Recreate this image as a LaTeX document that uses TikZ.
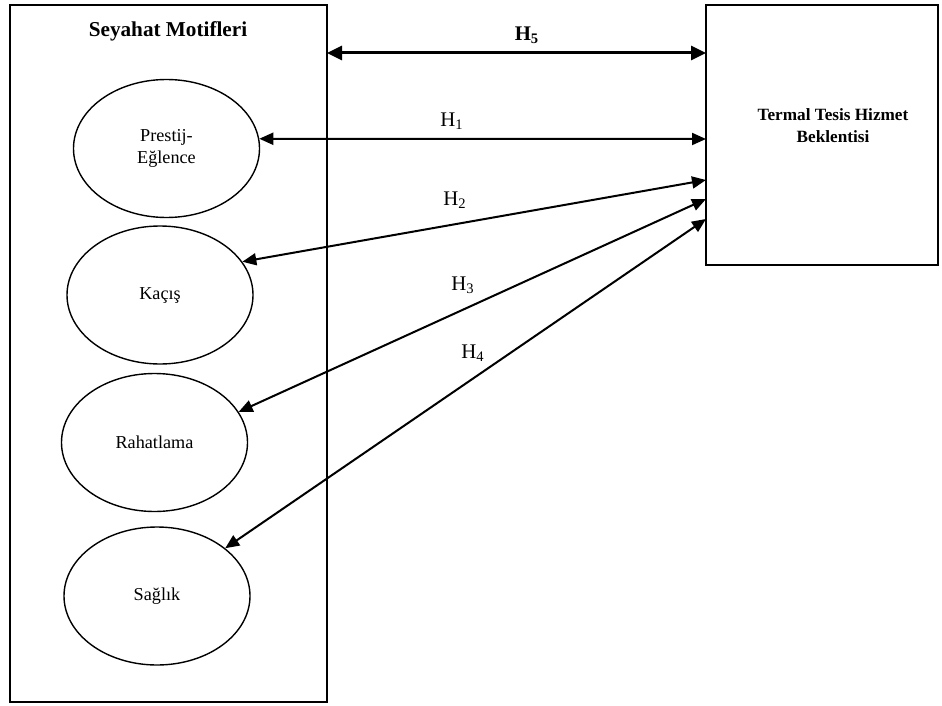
\documentclass[tikz,border=0pt]{standalone}
\usepackage{fontspec}
\setmainfont{Liberation Serif}
\usetikzlibrary{shapes.geometric,arrows.meta}
\newcommand{\hyp}[1]{H\textsubscript{#1}}

\begin{document}
\begin{tikzpicture}
                \tikzset{x=0.5pt, y=-0.5pt}
                \tikzstyle{box}=[rectangle, draw, line width=0.7pt, inner sep=0pt]
                \tikzstyle{motive}=[ellipse, draw, line width=0.7pt, inner sep=0pt, minimum width=93pt, minimum height=69pt, align=center, font=\fontsize{9.1}{11}\selectfont]
                \tikzstyle{hlabel}=[inner sep=1pt, font=\fontsize{10.4}{12}\selectfont]
                \tikzstyle{link}=[{Triangle[length=7pt,width=6pt]}-{Triangle[length=7pt,width=6pt]}, line width=1pt]
                \tikzstyle{mainlink}=[{Triangle[length=7.5pt,width=7pt]}-{Triangle[length=7.5pt,width=7pt]}, line width=1.5pt]

                \useasboundingbox (0,0) rectangle (942,706);

                \draw (168.5, 353.5) node[box, minimum width=158.5pt, minimum height=348.5pt] (motif) {};
                \draw (822.0, 135.0) node[box, minimum width=116pt, minimum height=130pt]     (tesis) {};

                \draw (168.0, 31.0)  node[font=\bfseries\fontsize{10.6}{13}\selectfont] (motiftitle) {Seyahat Motifleri};
                \draw (833.0, 126.0) node[align=center, font=\bfseries\fontsize{8.6}{11}\selectfont] (tesistitle) {Termal Tesis Hizmet\\Beklentisi};

                \draw (166.5, 148.5) node[motive] (prestij) {Prestij-\\Eğlence};
                \draw (160.0, 295.0) node[motive] (kacis)   {Kaçış};
                \draw (154.5, 442.5) node[motive] (rahat)   {Rahatlama};
                \draw (157.0, 596.0) node[motive] (saglik)  {Sağlık};

                \coordinate (m5) at (327.0, 53.0);
                \coordinate (t5) at (706.0, 53.0);
                \coordinate (t1) at (706.0, 139.0);
                \coordinate (t2) at (706.0, 180.0);
                \coordinate (t3) at (706.0, 199.0);
                \coordinate (t4) at (706.0, 219.0);

                \draw (527.0, 35.0)  node[hlabel] (h5) {\textbf{\hyp{5}}};
                \draw (452.0, 121.0) node[hlabel] (h1) {\hyp{1}};
                \draw (455.0, 200.0) node[hlabel] (h2) {\hyp{2}};
                \draw (463.0, 285.0) node[hlabel] (h3) {\hyp{3}};
                \draw (473.0, 353.0) node[hlabel] (h4) {\hyp{4}};

                \draw [mainlink]    (m5) -- (t5);
                \draw [link]        (prestij.6) -- (t1);
                \draw [link]        (kacis.22) -- (t2);
                \draw [link]        (rahat.20) -- (t3);
                \draw [link]        (saglik.35) -- (t4);
            \end{tikzpicture}
\end{document}
